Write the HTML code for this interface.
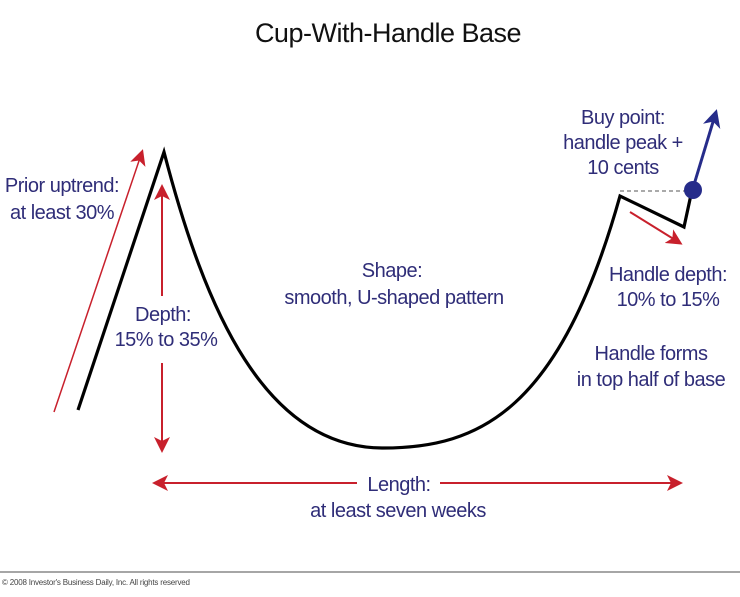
<!DOCTYPE html>
<html><head><meta charset="utf-8"><style>
body{margin:0;background:#fff;}
svg{display:block}
text{font-family:"Liberation Sans",sans-serif;fill:#2f2d78;font-size:20px;letter-spacing:-0.5px}
</style></head><body>
<svg width="740" height="597" viewBox="0 0 740 597">
<defs>
<marker id="rb" markerWidth="16" markerHeight="16" refX="13" refY="8" orient="auto" markerUnits="userSpaceOnUse"><path d="M0,0 L16,8 L0,16 L4,8 Z" fill="#c8202c"/></marker>
<marker id="b" markerWidth="18" markerHeight="18" refX="15" refY="9" orient="auto" markerUnits="userSpaceOnUse"><path d="M0,0 L18,9 L0,18 L5,9 Z" fill="#262c8a"/></marker>
</defs>
<text x="388" y="42" text-anchor="middle" style="fill:#111;font-size:27px">Cup-With-Handle Base</text>
<path d="M78,410 L164,152 C205,310 265,448 383,448 C480,448 560,410 620,196 L684,227 L692,190" fill="none" stroke="#000" stroke-width="3.2"/>
<line x1="620" y1="191" x2="688" y2="191" stroke="#555" stroke-width="1" stroke-dasharray="4,3"/>
<line x1="693" y1="188" x2="716" y2="112" stroke="#262c8a" stroke-width="3" marker-end="url(#b)"/>
<circle cx="693" cy="190" r="9" fill="#262c8a"/>
<line x1="54" y1="412" x2="142" y2="152" stroke="#c8202c" stroke-width="1.5" marker-end="url(#rb)"/>
<line x1="162" y1="296" x2="162" y2="187" stroke="#c8202c" stroke-width="2" marker-end="url(#rb)"/>
<line x1="162" y1="363" x2="162" y2="450" stroke="#c8202c" stroke-width="2" marker-end="url(#rb)"/>
<line x1="357" y1="483" x2="155" y2="483" stroke="#c8202c" stroke-width="2" marker-end="url(#rb)"/>
<line x1="440" y1="483" x2="680" y2="483" stroke="#c8202c" stroke-width="2" marker-end="url(#rb)"/>
<line x1="630" y1="212" x2="680" y2="243" stroke="#c8202c" stroke-width="2" marker-end="url(#rb)"/>
<text x="62" y="192" text-anchor="middle">Prior uptrend:</text>
<text x="62" y="219" text-anchor="middle">at least 30%</text>
<text x="163" y="321" text-anchor="middle">Depth:</text>
<text x="166" y="346" text-anchor="middle">15% to 35%</text>
<text x="392" y="277" text-anchor="middle">Shape:</text>
<text x="394" y="304" text-anchor="middle">smooth, U-shaped pattern</text>
<text x="623" y="124" text-anchor="middle">Buy point:</text>
<text x="623" y="149" text-anchor="middle">handle peak +</text>
<text x="623" y="174" text-anchor="middle">10 cents</text>
<text x="668" y="281" text-anchor="middle">Handle depth:</text>
<text x="668" y="306" text-anchor="middle">10% to 15%</text>
<text x="651" y="360" text-anchor="middle">Handle forms</text>
<text x="651" y="386" text-anchor="middle">in top half of base</text>
<text x="399" y="491" text-anchor="middle">Length:</text>
<text x="398" y="517" text-anchor="middle">at least seven weeks</text>
<line x1="0" y1="572" x2="740" y2="572" stroke="#888" stroke-width="1.5"/>
<text x="2" y="585" style="fill:#444;font-size:8px;letter-spacing:-0.2px">© 2008 Investor's Business Daily, Inc. All rights reserved</text>
</svg>
</body></html>
